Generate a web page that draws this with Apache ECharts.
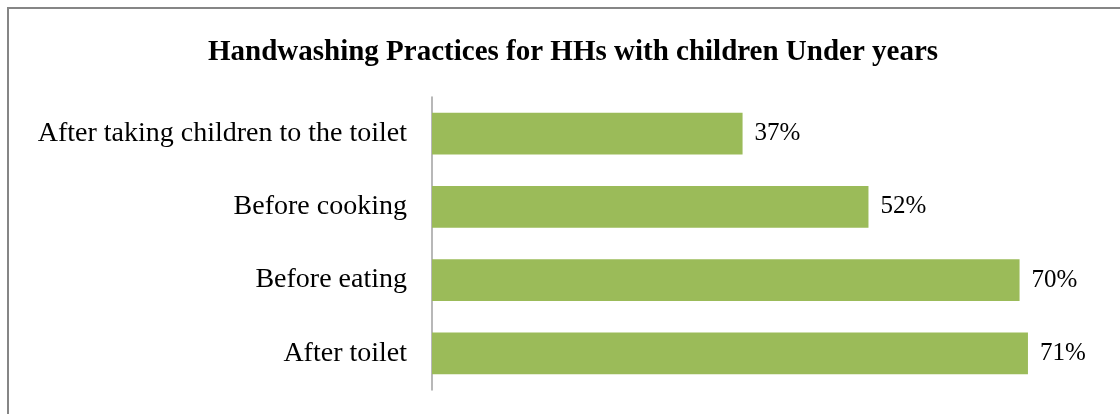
<!DOCTYPE html>
<html>
<head>
<meta charset="utf-8">
<script src="https://cdn.jsdelivr.net/npm/echarts@6/dist/echarts.min.js"></script>
<style>
  html, body { margin: 0; padding: 0; background: #fff; }
  #chart { width: 1120px; height: 414px; }
</style>
</head>
<body>
<div id="chart"></div>
<script>
// Handwashing occasions, top to bottom
const categories = [
  'After taking children to the toilet',
  'Before cooking',
  'Before eating',
  'After toilet'
];
// Share of households (%)
const values = [37, 52, 70, 71];
const chartTitle = 'Handwashing Practices for HHs with children Under years';

const serif = '"Liberation Serif", "Times New Roman", serif';
const chart = echarts.init(document.getElementById('chart'), null, { renderer: 'canvas' });

chart.setOption({
  backgroundColor: '#ffffff',
  animation: false,
  title: {
    text: chartTitle,
    left: 203,
    top: 33,
    textStyle: { fontFamily: serif, fontSize: 29, fontWeight: 'bold', color: '#000' }
  },
  // outer chart frame
  graphic: [{
    type: 'rect',
    shape: { x: 8, y: 8, width: 1140, height: 440 },
    style: { fill: null, stroke: '#868686', lineWidth: 2 },
    silent: true
  }],
  grid: { left: 432, right: 16.5, top: 97, bottom: 24, containLabel: false },
  xAxis: {
    type: 'value',
    min: 0,
    max: 80,
    show: false
  },
  yAxis: {
    type: 'category',
    data: categories,
    inverse: true,
    axisLine: { show: true, lineStyle: { color: '#a0a0a0', width: 1.5 } },
    axisTick: { show: false },
    axisLabel: { margin: 25, fontFamily: serif, fontSize: 28, color: '#000' }
  },
  series: [{
    type: 'bar',
    data: values,
    barWidth: '57%',
    itemStyle: { color: '#9bbb59' },
    label: {
      show: true,
      position: 'right',
      distance: 12,
      formatter: p => p.value + '%',
      fontFamily: serif,
      fontSize: 25,
      color: '#000'
    }
  }]
});
</script>
</body>
</html>
